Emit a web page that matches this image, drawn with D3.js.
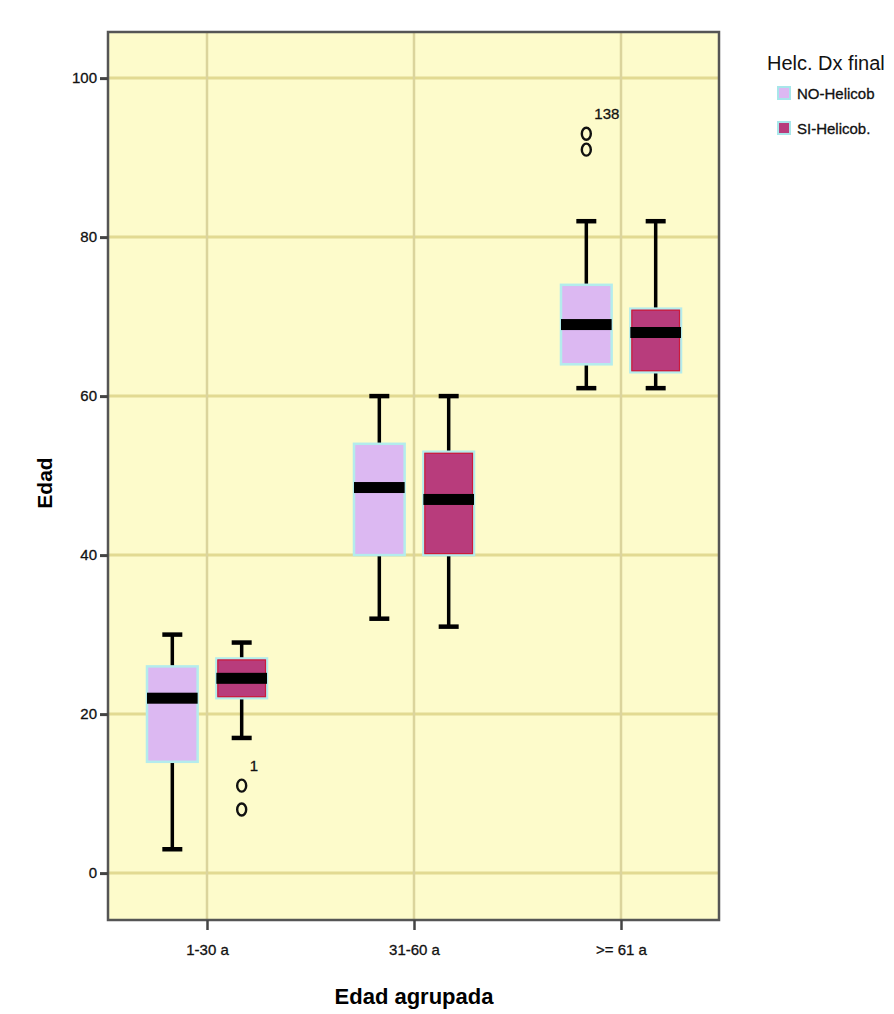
<!DOCTYPE html>
<html><head><meta charset="utf-8">
<script src="https://cdn.jsdelivr.net/npm/d3@7"></script>
<style>
body{margin:0;background:#fff;}
svg text{font-family:"Liberation Sans Narrow","Liberation Sans",Arial,sans-serif;}
</style></head>
<body><svg id="c" width="894" height="1014"></svg>
<script>
const categories = ["1-30 a", "31-60 a", ">= 61 a"];
const series = ["NO-Helicob", "SI-Helicob."];
// [whiskerLow, Q1, median, Q3, whiskerHigh] per category
const noHelicob = [[3, 14, 22, 26, 30], [32, 40, 48.5, 54, 60], [61, 64, 69, 74, 82]];
const siHelicob = [[17, 22, 24.5, 27, 29], [31, 40, 47, 53, 60], [61, 63, 68, 71, 82]];
const outliersNo = [[], [], [93, 91]];
const outliersSi = [[11, 8], [], []];
const outlierLabels = [{cat: ">= 61 a", s: 0, v: 93, text: "138"}, {cat: "1-30 a", s: 1, v: 11, text: "1"}];
const yTicks = [0, 20, 40, 60, 80, 100];

const svg = d3.select("#c");
const L = 108, R = 719, T = 32, B = 920;
const y = d3.scaleLinear().domain([-5.9, 105.8]).range([B, T]);
const x = d3.scalePoint().domain(categories).range([207, 621]);
const xs = d3.scaleBand().domain(series).range([-60, 60]).paddingInner(0.27);
const fills = ["#dcb8f2", "#b83c7c"];

// plot background
svg.append("rect").attr("x", L).attr("y", T).attr("width", R - L).attr("height", B - T).attr("fill", "#fdfbcb");
// gridlines
svg.append("g").selectAll("line").data(yTicks).join("line")
  .attr("x1", L).attr("x2", R).attr("y1", d => y(d)).attr("y2", d => y(d))
  .attr("stroke", "#e2da92").attr("stroke-width", 3);
svg.append("g").selectAll("line").data(categories).join("line")
  .attr("x1", d => x(d)).attr("x2", d => x(d)).attr("y1", T).attr("y2", B)
  .attr("stroke", "#dbd49c").attr("stroke-width", 2.5);
// frame
svg.append("rect").attr("x", L).attr("y", T).attr("width", R - L).attr("height", B - T)
  .attr("fill", "none").attr("stroke", "#555").attr("stroke-width", 2.5);

// axes
const yAxis = svg.append("g").attr("transform", `translate(${L},0)`)
  .call(d3.axisLeft(y).tickValues(yTicks).tickSize(8).tickPadding(3));
yAxis.select(".domain").remove();
yAxis.selectAll("line").attr("stroke", "#444").attr("stroke-width", 3);
yAxis.selectAll("text").attr("font-size", 15).attr("fill", "#111").attr("stroke", "#111").attr("stroke-width", 0.3);

const xAxis = svg.append("g").attr("transform", `translate(0,${B})`)
  .call(d3.axisBottom(x).tickSize(10).tickPadding(14));
xAxis.select(".domain").remove();
xAxis.selectAll("line").attr("stroke", "#444").attr("stroke-width", 2.5);
xAxis.selectAll("text").attr("font-size", 15).attr("fill", "#111").attr("stroke", "#111").attr("stroke-width", 0.3);

// boxes
const data = [];
categories.forEach((c, i) => {
  data.push({cat: c, s: 0, v: noHelicob[i], out: outliersNo[i]});
  data.push({cat: c, s: 1, v: siHelicob[i], out: outliersSi[i]});
});
const gb = svg.append("g");
data.forEach(d => {
  const cx = x(d.cat) + xs(series[d.s]) + xs.bandwidth() / 2;
  const w = xs.bandwidth();
  const [lo, q1, md, q3, hi] = d.v;
  const g = gb.append("g");
  // whiskers
  g.append("line").attr("x1", cx).attr("x2", cx).attr("y1", y(hi)).attr("y2", y(q3)).attr("stroke", "#000").attr("stroke-width", 3.5);
  g.append("line").attr("x1", cx).attr("x2", cx).attr("y1", y(q1)).attr("y2", y(lo)).attr("stroke", "#000").attr("stroke-width", 3.5);
  [hi, lo].forEach(v => g.append("line").attr("x1", cx - 10).attr("x2", cx + 10).attr("y1", y(v)).attr("y2", y(v)).attr("stroke", "#000").attr("stroke-width", 4.5));
  // box
  g.append("rect").attr("x", cx - w / 2).attr("y", y(q3)).attr("width", w).attr("height", y(q1) - y(q3))
    .attr("fill", fills[d.s]).attr("stroke", "#b4ecec").attr("stroke-width", 2.5);
  if (d.s === 1) {
    g.append("rect").attr("x", cx - w / 2 + 1.5).attr("y", y(q3) + 1.5).attr("width", w - 3).attr("height", y(q1) - y(q3) - 3)
      .attr("fill", "none").attr("stroke", "#cc1a3a").attr("stroke-width", 1.2);
  }
  // median
  g.append("rect").attr("x", cx - w / 2).attr("y", y(md) - 5.5).attr("width", w).attr("height", 11).attr("fill", "#000");
  // outliers
  d.out.forEach(v => g.append("ellipse").attr("cx", cx).attr("cy", y(v)).attr("rx", 4.5).attr("ry", 6)
    .attr("fill", "none").attr("stroke", "#111").attr("stroke-width", 2.4));
});
outlierLabels.forEach(o => {
  const cx = x(o.cat) + xs(series[o.s]) + xs.bandwidth() / 2;
  svg.append("text").attr("x", cx + 8).attr("y", y(o.v) - 15).attr("font-size", 15).attr("fill", "#111")
    .attr("stroke", "#111").attr("stroke-width", 0.3).text(o.text);
});

// axis titles
svg.append("text").attr("transform", `translate(52,483) rotate(-90)`)
  .attr("text-anchor", "middle").attr("font-size", 21).attr("font-weight", "bold").text("Edad");
svg.append("text").attr("x", 414).attr("y", 1004).attr("text-anchor", "middle")
  .attr("font-size", 22).attr("font-weight", "bold").text("Edad agrupada");

// legend
svg.append("text").attr("x", 767).attr("y", 70).attr("font-size", 20).attr("fill", "#111").text("Helc. Dx final");
series.forEach((s, i) => {
  const yy = 87 + i * 35;
  svg.append("rect").attr("x", 778).attr("y", yy).attr("width", 12).attr("height", 12)
    .attr("fill", fills[i]).attr("stroke", "#a8e6ea").attr("stroke-width", 2);
  svg.append("text").attr("x", 797).attr("y", yy + 12).attr("font-size", 15).attr("fill", "#111")
    .attr("stroke", "#111").attr("stroke-width", 0.3).text(s);
});
</script></body></html>
